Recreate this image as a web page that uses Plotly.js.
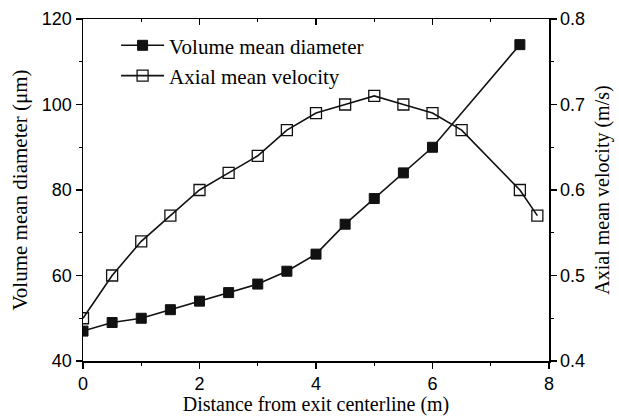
<!DOCTYPE html>
<html>
<head>
<meta charset="utf-8">
<script src="https://cdn.plot.ly/plotly-3.0.1.min.js"></script>
<style>html,body{margin:0;padding:0;background:#fff;}#chart{width:619px;height:416px;}</style>
</head>
<body>
<div id="chart"></div>
<script>
// Data
const diamX = [0, 0.5, 1, 1.5, 2, 2.5, 3, 3.5, 4, 4.5, 5, 5.5, 6, 7.5];
const diamY = [47, 49, 50, 52, 54, 56, 58, 61, 65, 72, 78, 84, 90, 114];
const velX = [0, 0.5, 1, 1.5, 2, 2.5, 3, 3.5, 4, 4.5, 5, 5.5, 6, 6.5, 7.5, 7.8];
const velY = [0.45, 0.50, 0.54, 0.57, 0.60, 0.62, 0.64, 0.67, 0.69, 0.70, 0.71, 0.70, 0.69, 0.67, 0.60, 0.57];
const seriesNames = ["Volume mean diameter", "Axial mean velocity"];
const xTitle = "Distance from exit centerline (m)";
const yTitle = "Volume mean diameter (\u03bcm)";
const y2Title = "Axial mean velocity (m/s)";

const tickFont = {family: "Liberation Sans, Arial, sans-serif", size: 18, color: "#000"};
const xTitleFont = {family: "Liberation Serif, Times New Roman, serif", size: 20, color: "#000"};
const yTitleFont = {family: "Liberation Serif, Times New Roman, serif", size: 21, color: "#000"};
const legendFont = {family: "Liberation Serif, Times New Roman, serif", size: 21, color: "#000"};

const traces = [
  {
    x: diamX, y: diamY, name: seriesNames[0], type: "scatter", mode: "lines+markers",
    xaxis: "x", yaxis: "y",
    line: {color: "#111", width: 1.6},
    marker: {symbol: "square", size: 10, color: "#111", line: {color: "#111", width: 1}}
  },
  {
    x: velX, y: velY, name: seriesNames[1], type: "scatter", mode: "lines+markers",
    xaxis: "x", yaxis: "y2",
    line: {color: "#111", width: 1.6},
    marker: {symbol: "square-open", size: 11, color: "#111", line: {width: 1.3}}
  },
  {
    x: [], y: [], xaxis: "x2", yaxis: "y", showlegend: false, hoverinfo: "skip", type: "scatter"
  }
];

const layout = {
  width: 619, height: 416,
  margin: {l: 83, r: 70, t: 19, b: 55},
  paper_bgcolor: "#fff", plot_bgcolor: "#fff",
  showlegend: true,
  legend: {
    x: 0.071, y: 0.982, xanchor: "left", yanchor: "top",
    font: legendFont, bgcolor: "rgba(0,0,0,0)", tracegroupgap: 0, itemwidth: 43
  },
  xaxis: {
    range: [0, 8], dtick: 2, tick0: 0,
    showgrid: false, zeroline: false,
    showline: true, linecolor: "#000", linewidth: 1.5,
    ticks: "outside", ticklen: 6, tickwidth: 1.3, tickcolor: "#000",
    minor: {dtick: 1, ticks: "outside", ticklen: 3, tickwidth: 1.2, tickcolor: "#000", showgrid: false},
    tickfont: tickFont,
    title: {text: xTitle, font: xTitleFont, standoff: 4}
  },
  xaxis2: {
    range: [0, 8], dtick: 2, overlaying: "x", side: "top",
    showgrid: false, zeroline: false, showticklabels: false,
    showline: true, linecolor: "#000", linewidth: 1.5,
    ticks: "inside", ticklen: 6, tickwidth: 1.3, tickcolor: "#000",
    minor: {dtick: 1, ticks: "inside", ticklen: 3, tickwidth: 1.2, tickcolor: "#000", showgrid: false}
  },
  yaxis: {
    range: [40, 120], dtick: 20,
    showgrid: false, zeroline: false,
    showline: true, linecolor: "#000", linewidth: 1.5,
    ticks: "outside", ticklen: 6, tickwidth: 1.3, tickcolor: "#000",
    minor: {dtick: 10, ticks: "outside", ticklen: 3, tickwidth: 1.2, tickcolor: "#000", showgrid: false},
    tickfont: tickFont,
    title: {text: yTitle, font: yTitleFont, standoff: 8}
  },
  yaxis2: {
    range: [0.4, 0.8], dtick: 0.1, overlaying: "y", side: "right", tickformat: ".1f",
    showgrid: false, zeroline: false,
    showline: true, linecolor: "#000", linewidth: 1.5,
    ticks: "outside", ticklen: 6, tickwidth: 1.3, tickcolor: "#000",
    minor: {dtick: 0.05, ticks: "outside", ticklen: 3, tickwidth: 1.2, tickcolor: "#000", showgrid: false},
    tickfont: tickFont,
    title: {text: y2Title, font: xTitleFont, standoff: 11}
  }
};

Plotly.newPlot("chart", traces, layout, {staticPlot: true, displayModeBar: false});
</script>
</body>
</html>
